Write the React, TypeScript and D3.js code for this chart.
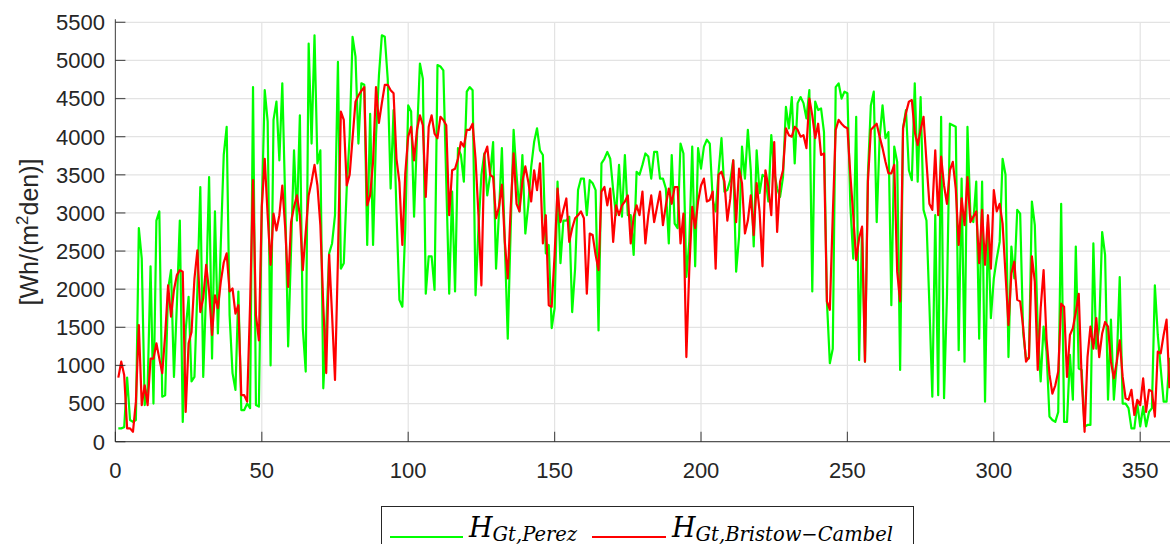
import React from "react";
import * as d3 from "d3";

const greenPerez = [
175,175,190,840,285,260,285,2800,2400,480,700,2300,500,2900,3020,590,610,2000,2250,850,
1800,2900,260,1460,1900,790,850,2000,3340,850,2000,3470,1090,3020,1420,2600,3760,4130,1660,900,
680,1970,415,415,500,440,4650,480,460,3060,4610,4200,1000,4220,4460,3690,4700,3150,1250,2530,
3820,2900,4280,1490,920,5220,3910,5330,3650,3820,700,1500,2470,2600,2970,4980,2270,2340,3320,4000,
5310,5050,3910,4700,4680,2580,4300,2580,4000,4800,5330,5310,4760,3320,4350,3000,1860,1770,2800,4410,
4330,2950,4000,4960,4760,1940,2430,2430,1990,4940,4920,4870,3400,1940,3280,1970,3850,3760,3410,4590,
4650,4610,1920,2800,3500,3780,3230,3500,3930,2270,3000,3850,2600,1350,2800,4090,3500,3020,3760,2730,
3100,3600,3930,4110,3820,3760,2470,2580,1490,1750,3410,2340,2900,2900,2950,1700,2270,3300,3450,3450,
2970,3430,3390,3300,1460,3650,3710,3800,3710,3300,2970,3630,2950,3760,2970,2970,2450,3540,3500,3630,
3780,3740,3450,3800,3800,3450,3450,3320,2600,3760,2860,2800,3910,3780,2160,2620,3870,2300,3850,3580,
3870,3960,3910,3170,3020,3540,3980,3280,3300,3430,3690,2230,2690,3870,3450,4090,3560,2560,3820,3260,
3500,3470,3150,4020,3540,3320,3210,3470,4390,4110,4520,3650,4440,4520,4440,4240,4610,1970,4460,4350,
4370,4060,1840,1030,1220,4650,4700,4500,4590,4570,3100,2400,4260,1070,2800,1050,3500,4410,4590,2880,
3980,4410,3980,4060,1790,3870,3670,940,4110,4350,3560,3430,4700,3410,4520,3040,2900,1790,590,2970,
610,4260,570,1920,4170,4150,4130,1200,3450,1050,4130,2970,2880,3410,1350,3410,525,2880,1620,2140,
2400,2620,3710,3500,1110,2560,2140,3040,2990,1440,1090,1090,3150,2840,1490,790,1510,1180,330,285,
260,390,3120,260,260,1140,550,2560,960,940,200,220,220,2600,1220,1510,2750,2450,550,1600,
550,1050,2160,500,500,440,175,175,500,200,460,200,390,440,2050,1400,960,525,525,1100
];

const redBristowCambel = [
840,1050,875,175,175,130,525,1530,480,740,480,1090,1090,1290,1090,900,1400,2050,1640,1990,
2185,2250,2230,390,1290,1440,2140,2510,1700,1880,2320,1970,1400,1920,1750,2100,2350,2470,1970,2010,
1680,1790,610,610,525,1800,3430,1660,1330,3080,3710,2970,2320,2990,2770,2970,3360,2800,2030,2880,
3080,3230,2970,2250,2750,3230,3410,3630,3360,2840,1790,900,2450,1660,810,2400,4330,4220,3360,3500,
3980,4460,4540,4600,4650,3100,3230,3670,4650,4180,4440,4680,4680,4610,4570,3710,3400,2580,3520,4000,
4130,3690,4090,4280,4150,3210,4130,4280,4040,3980,4260,4220,4150,2970,3560,3580,3710,3930,3870,4090,
4090,4170,3710,2970,2050,3760,3870,3500,3470,2930,3080,3370,2620,2140,3060,3780,3120,3020,3410,3610,
3410,3150,3560,3300,3650,2600,2970,1790,1770,2450,3320,2880,3040,3190,2620,2800,2930,2970,3020,2930,
1940,2730,2710,2450,2250,3280,3340,3100,3320,2620,3100,2970,3100,3150,3230,2600,2950,3100,2970,3280,
2600,2970,3230,2880,3080,3280,2840,3100,3320,3120,3340,3340,2600,2990,1110,2270,3080,2800,3150,3360,
3450,3150,3170,3280,2270,3500,3540,3410,2900,3190,3690,2880,3580,3390,2730,2900,3230,2710,3390,3020,
2300,3560,3340,2970,3930,2750,3410,3560,4110,4020,4000,4130,4090,4000,4020,3850,4500,4280,3980,4170,
3760,3780,1840,1730,2970,4090,4220,4170,4130,4110,3500,2970,2380,2670,2820,1050,3410,4090,4130,4170,
4000,3850,3670,3520,3520,3630,2230,1840,4110,4310,4460,4480,4060,3890,4090,4260,3670,3120,3040,3820,
2970,3740,3360,3120,3560,3670,3320,2580,3190,2840,3470,2880,2950,3020,2340,3040,2320,2970,2270,3300,
3020,3120,2860,2190,1530,2210,2360,1860,1840,1510,1050,1110,2430,2100,940,1750,2250,1350,885,630,
740,920,1810,1770,850,1400,1490,1700,1940,830,130,1110,1510,1220,1620,1110,1420,1570,1510,1050,
830,1050,1330,850,570,550,680,350,550,480,830,390,680,660,330,1180,1160,1400,1600,700
];

const xTicks = [0, 50, 100, 150, 200, 250, 300, 350];
const yTicks = [0, 500, 1000, 1500, 2000, 2500, 3000, 3500, 4000, 4500, 5000, 5500];

export default function App() {
  const W = 1170, H = 544;
  const x = d3.scaleLinear().domain([0, 360]).range([115.4, 1169.5]);
  const y = d3.scaleLinear().domain([0, 5500]).range([441.7, 22.3]);
  const line = d3.line<number>().x((_, i) => x(i + 1)).y((d) => y(d));
  const axisColor = "#262626";
  const font = "Liberation Sans, Arial, Helvetica, sans-serif";
  const fs = 22;
  const serif = "DejaVu Serif, Liberation Serif, serif";
  return (
    <svg width={W} height={H} style={{ position: "absolute", left: 0, top: 0, background: "#fff" }}>
      <defs>
        <clipPath id="plotClip">
          <rect x={x(0)} y={0} width={W - x(0)} height={y(0) + 1} />
        </clipPath>
      </defs>
      {yTicks.map((t) => (
        <line key={"gy" + t} x1={x(0)} x2={W} y1={y(t)} y2={y(t)} stroke="#e3e3e3" strokeWidth={1.2} />
      ))}
      {xTicks.filter((t) => t > 0).map((t) => (
        <line key={"gx" + t} x1={x(t)} x2={x(t)} y1={y(5500)} y2={y(0)} stroke="#e3e3e3" strokeWidth={1.2} />
      ))}
      <g clipPath="url(#plotClip)">
        <path d={line(greenPerez) || ""} fill="none" stroke="#00ff00" strokeWidth={2.2} strokeLinejoin="round" />
        <path d={line(redBristowCambel) || ""} fill="none" stroke="#ff0000" strokeWidth={2.2} strokeLinejoin="round" />
      </g>
      <line x1={x(0)} x2={x(0)} y1={y(5500) - 3} y2={y(0)} stroke={axisColor} strokeWidth={1.2} opacity={0.75} />
      <line x1={x(0)} x2={W} y1={y(0)} y2={y(0)} stroke={axisColor} strokeWidth={1.2} opacity={0.75} />
      {yTicks.map((t) => (
        <g key={"ty" + t}>
          <line x1={x(0)} x2={x(0) + 10} y1={y(t)} y2={y(t)} stroke={axisColor} strokeWidth={1.2} opacity={0.75} />
          <text x={x(0) - 10.5} y={y(t)} dy="0.36em" textAnchor="end" fontFamily={font} fontSize={fs} fill={axisColor}>
            {t}
          </text>
        </g>
      ))}
      {xTicks.map((t) => (
        <g key={"tx" + t}>
          <line x1={x(t)} x2={x(t)} y1={y(0)} y2={y(0) - 10} stroke={axisColor} strokeWidth={1.2} opacity={0.75} />
          <text x={x(t)} y={y(0) + 36} textAnchor="middle" fontFamily={font} fontSize={fs} fill={axisColor}>
            {t}
          </text>
        </g>
      ))}
      <text transform={`translate(38, ${(y(0) + y(5500)) / 2}) rotate(-90)`} textAnchor="middle" fontFamily={font} fontSize={25} fill={axisColor}>
        [Wh/(m<tspan dy={-10} fontSize={17}>2</tspan><tspan dy={10}>den)]</tspan>
      </text>
      <rect x={381.5} y={506.5} width={532} height={50} fill="#fff" stroke="#262626" strokeWidth={1} />
      <line x1={390} x2={463} y1={537} y2={537} stroke="#00ff00" strokeWidth={2.2} />
      <text x={469} y={537} fontFamily={serif} fontStyle="italic" fontSize={27} fill="#000">
        H<tspan dy={4} fontSize={19.5}>Gt,Perez</tspan>
      </text>
      <line x1={592} x2={666} y1={537} y2={537} stroke="#ff0000" strokeWidth={2.2} />
      <text x={672} y={537} fontFamily={serif} fontStyle="italic" fontSize={27} fill="#000">
        H<tspan dy={4} fontSize={19.5}>Gt,Bristow−Cambel</tspan>
      </text>
    </svg>
  );
}
